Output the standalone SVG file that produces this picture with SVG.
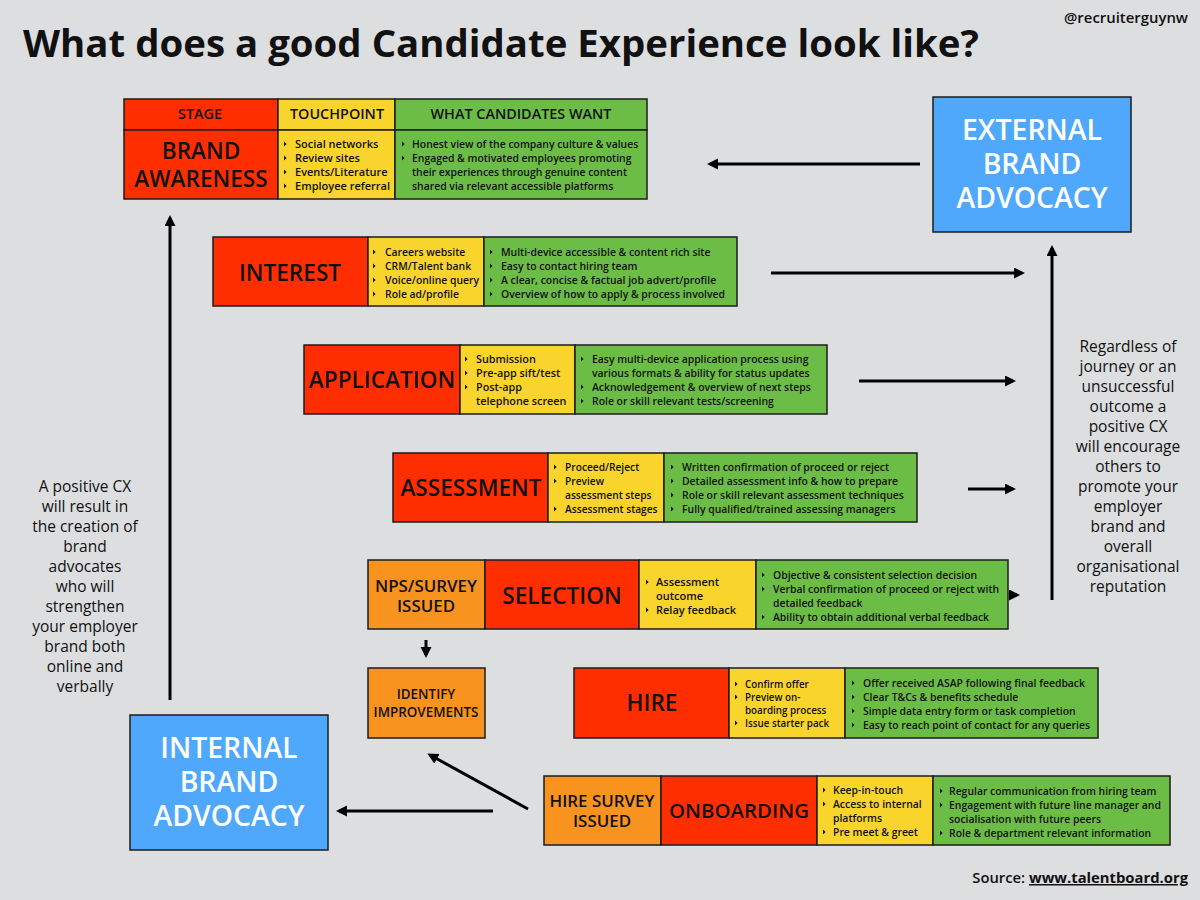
<svg xmlns="http://www.w3.org/2000/svg" width="1200" height="900" viewBox="0 0 1200 900">
<style>
text{font-family:"Open Sans","Liberation Sans",sans-serif;fill:#111;font-weight:600}
.r{fill:#fe2e00}.y{fill:#f8d42c}.g{fill:#6cbd45}.o{fill:#f7931e}.b{fill:#4fa8fb}
rect{stroke:#1c1c1c;stroke-width:1.5}
.t{font-size:10.4px}
.t11{font-size:11px}
.t108{font-size:10.8px}
.t102{font-size:10.2px}
.t98{font-size:9.8px}
.s{font-size:22.6px;text-anchor:middle}
.m{font-size:16.9px;text-anchor:middle}
.h{font-size:14.4px;text-anchor:middle}
.i{font-size:13.4px;text-anchor:middle}
.a{font-size:28.4px;text-anchor:middle;fill:#fff}
.n{font-size:15.5px;text-anchor:middle;font-weight:400}
.c{stroke:#000;stroke-width:3;fill:none;marker-end:url(#ah)}
</style>
<defs>
<marker id="ah" markerUnits="userSpaceOnUse" markerWidth="12" markerHeight="12" refX="8" refY="5.5" orient="auto"><path d="M0 0L11 5.5L0 11Z" fill="#000"/></marker>
<path id="bu" d="M0 -2.6L2.6 0L0 2.6Z" fill="#111"/>
</defs>
<rect x="0" y="0" width="1200" height="900" style="fill:#dcdee0;stroke:none"/>
<text id="title" x="23" y="57" style="font-size:38.4px;font-weight:700">What does a good Candidate Experience look like?</text>
<text id="handle" x="1188" y="23" style="font-size:14.9px;text-anchor:end">@recruiterguynw</text>
<text id="source" x="1188" y="883" style="font-size:14.8px;text-anchor:end">Source: <tspan style="text-decoration:underline;font-weight:700">www.talentboard.org</tspan></text>

<g id="connectors">
<path class="c" d="M920 164H710"/>
<path class="c" d="M771 273H1022"/>
<path class="c" d="M859 381H1013"/>
<path class="c" d="M968 489H1013"/>
<path class="c" d="M1009 595H1017"/>
<path class="c" d="M1052 600V248"/>
<path class="c" d="M170 700V218"/>
<path class="c" d="M426 640V655"/>
<path class="c" d="M493 811H339"/>
<path class="c" d="M528 809L430 755"/>
</g>

<g id="brand-awareness">
<rect class="r" x="124" y="99" width="154" height="31"/><rect class="y" x="278" y="99" width="117" height="31"/><rect class="g" x="395" y="99" width="252" height="31"/>
<rect class="r" x="124" y="130" width="154" height="69"/><rect class="y" x="278" y="130" width="117" height="69"/><rect class="g" x="395" y="130" width="252" height="69"/>
<text class="h" x="200" y="119">STAGE</text><text class="h" x="337" y="119">TOUCHPOINT</text><text class="h" x="521" y="119">WHAT CANDIDATES WANT</text>
<text class="s" x="201" y="159">BRAND</text><text class="s" x="201" y="187">AWARENESS</text>
<use href="#bu" x="284" y="144"/><use href="#bu" x="284" y="158"/><use href="#bu" x="284" y="172"/><use href="#bu" x="284" y="186"/>
<text class="t11" x="295" y="148">Social networks</text><text class="t11" x="295" y="162">Review sites</text><text class="t11" x="295" y="176">Events/Literature</text><text class="t11" x="295" y="190">Employee referral</text>
<use href="#bu" x="402" y="144"/><use href="#bu" x="402" y="158"/>
<text class="t" x="412" y="148">Honest view of the company culture &amp; values</text><text class="t" x="412" y="162">Engaged &amp; motivated employees promoting</text><text class="t" x="412" y="176">their experiences through genuine content</text><text class="t" x="412" y="190">shared via relevant accessible platforms</text>
</g>

<g id="interest">
<rect class="r" x="213" y="237" width="155" height="69"/><rect class="y" x="368" y="237" width="116" height="69"/><rect class="g" x="484" y="237" width="253" height="69"/>
<text class="s" x="290" y="281">INTEREST</text>
<use href="#bu" x="373" y="252"/><use href="#bu" x="373" y="266"/><use href="#bu" x="373" y="280"/><use href="#bu" x="373" y="294"/>
<text class="t" x="385" y="256">Careers website</text><text class="t" x="385" y="270">CRM/Talent bank</text><text class="t" x="385" y="284">Voice/online query</text><text class="t" x="385" y="298">Role ad/profile</text>
<use href="#bu" x="490" y="252"/><use href="#bu" x="490" y="266"/><use href="#bu" x="490" y="280"/><use href="#bu" x="490" y="294"/>
<text class="t" x="501" y="256">Multi-device accessible &amp; content rich site</text><text class="t" x="501" y="270">Easy to contact hiring team</text><text class="t" x="501" y="284">A clear, concise &amp; factual job advert/profile</text><text class="t" x="501" y="298">Overview of how to apply &amp; process involved</text>
</g>

<g id="application">
<rect class="r" x="304" y="345" width="156" height="69"/><rect class="y" x="460" y="345" width="115" height="69"/><rect class="g" x="575" y="345" width="252" height="69"/>
<text class="s" x="382" y="388">APPLICATION</text>
<use href="#bu" x="465" y="359"/><use href="#bu" x="465" y="373"/><use href="#bu" x="465" y="387"/>
<text class="t108" x="476" y="363">Submission</text><text class="t108" x="476" y="377">Pre-app sift/test</text><text class="t108" x="476" y="391">Post-app</text><text class="t108" x="476" y="405">telephone screen</text>
<use href="#bu" x="581" y="359"/><use href="#bu" x="581" y="387"/><use href="#bu" x="581" y="401"/>
<text class="t" x="592" y="363">Easy multi-device application process using</text><text class="t" x="592" y="377">various formats &amp; ability for status updates</text><text class="t" x="592" y="391">Acknowledgement &amp; overview of next steps</text><text class="t" x="592" y="405">Role or skill relevant tests/screening</text>
</g>

<g id="assessment">
<rect class="r" x="393" y="453" width="155" height="69"/><rect class="y" x="548" y="453" width="116" height="69"/><rect class="g" x="664" y="453" width="253" height="69"/>
<text class="s" x="471" y="496">ASSESSMENT</text>
<use href="#bu" x="554" y="467"/><use href="#bu" x="554" y="481"/><use href="#bu" x="554" y="509"/>
<text class="t102" x="565" y="471">Proceed/Reject</text><text class="t102" x="565" y="485">Preview</text><text class="t102" x="565" y="499">assessment steps</text><text class="t102" x="565" y="513">Assessment stages</text>
<use href="#bu" x="671" y="467"/><use href="#bu" x="671" y="481"/><use href="#bu" x="671" y="495"/><use href="#bu" x="671" y="509"/>
<text class="t" x="682" y="471">Written confirmation of proceed or reject</text><text class="t" x="682" y="485">Detailed assessment info &amp; how to prepare</text><text class="t" x="682" y="499">Role or skill relevant assessment techniques</text><text class="t" x="682" y="513">Fully qualified/trained assessing managers</text>
</g>

<g id="selection">
<rect class="o" x="368" y="560" width="117" height="69"/><rect class="r" x="485" y="560" width="154" height="69"/><rect class="y" x="639" y="560" width="117" height="69"/><rect class="g" x="756" y="560" width="252" height="69"/>
<text class="m" x="426" y="592">NPS/SURVEY</text><text class="m" x="426" y="612">ISSUED</text>
<text class="s" x="562" y="604">SELECTION</text>
<use href="#bu" x="646" y="582"/><use href="#bu" x="646" y="610"/>
<text class="t11" x="656" y="586">Assessment</text><text class="t11" x="656" y="600">outcome</text><text class="t11" x="656" y="614">Relay feedback</text>
<use href="#bu" x="762" y="575"/><use href="#bu" x="762" y="589"/><use href="#bu" x="762" y="617"/>
<text class="t" x="773" y="579">Objective &amp; consistent selection decision</text><text class="t" x="773" y="593">Verbal confirmation of proceed or reject with</text><text class="t" x="773" y="607">detailed feedback</text><text class="t" x="773" y="621">Ability to obtain additional verbal feedback</text>
</g>

<g id="identify-improvements">
<rect class="o" x="368" y="668" width="117" height="70"/>
<text class="i" x="426" y="699">IDENTIFY</text><text class="i" x="426" y="717">IMPROVEMENTS</text>
</g>

<g id="hire">
<rect class="r" x="574" y="668" width="155" height="70"/><rect class="y" x="729" y="668" width="116" height="70"/><rect class="g" x="845" y="668" width="253" height="70"/>
<text class="s" x="652" y="711">HIRE</text>
<use href="#bu" x="735" y="684"/><use href="#bu" x="735" y="697"/><use href="#bu" x="735" y="723"/>
<text class="t98" x="745" y="688">Confirm offer</text><text class="t98" x="745" y="701">Preview on-</text><text class="t98" x="745" y="714">boarding process</text><text class="t98" x="745" y="727">Issue starter pack</text>
<use href="#bu" x="852" y="683"/><use href="#bu" x="852" y="697"/><use href="#bu" x="852" y="711"/><use href="#bu" x="852" y="725"/>
<text class="t" x="863" y="687">Offer received ASAP following final feedback</text><text class="t" x="863" y="701">Clear T&amp;Cs &amp; benefits schedule</text><text class="t" x="863" y="715">Simple data entry form or task completion</text><text class="t" x="863" y="729">Easy to reach point of contact for any queries</text>
</g>

<g id="onboarding">
<rect class="o" x="544" y="776" width="117" height="69"/><rect class="r" x="661" y="776" width="156" height="69"/><rect class="y" x="817" y="776" width="116" height="69"/><rect class="g" x="933" y="776" width="237" height="69"/>
<text class="m" x="602" y="807">HIRE SURVEY</text><text class="m" x="602" y="827">ISSUED</text>
<text class="s" x="739" y="818" style="font-size:20.4px">ONBOARDING</text>
<use href="#bu" x="823" y="790"/><use href="#bu" x="823" y="804"/><use href="#bu" x="823" y="832"/>
<text class="t" x="833" y="794">Keep-in-touch</text><text class="t" x="833" y="808">Access to internal</text><text class="t" x="833" y="822">platforms</text><text class="t" x="833" y="836">Pre meet &amp; greet</text>
<use href="#bu" x="940" y="791"/><use href="#bu" x="940" y="805"/><use href="#bu" x="940" y="833"/>
<text class="t" x="949" y="795">Regular communication from hiring team</text><text class="t" x="949" y="809">Engagement with future line manager and</text><text class="t" x="949" y="823">socialisation with future peers</text><text class="t" x="949" y="837">Role &amp; department relevant information</text>
</g>

<g id="external-brand-advocacy">
<rect class="b" x="933" y="97" width="198" height="135"/>
<text class="a" x="1032" y="140">EXTERNAL</text><text class="a" x="1032" y="174">BRAND</text><text class="a" x="1032" y="208">ADVOCACY</text>
</g>
<g id="internal-brand-advocacy">
<rect class="b" x="130" y="715" width="198" height="135"/>
<text class="a" x="229" y="758">INTERNAL</text><text class="a" x="229" y="792">BRAND</text><text class="a" x="229" y="826">ADVOCACY</text>
</g>

<g id="note-left">
<text class="n" x="85" y="492">A positive CX</text><text class="n" x="85" y="512">will result in</text><text class="n" x="85" y="532">the creation of</text><text class="n" x="85" y="552">brand</text><text class="n" x="85" y="572">advocates</text><text class="n" x="85" y="592">who will</text><text class="n" x="85" y="612">strengthen</text><text class="n" x="85" y="632">your employer</text><text class="n" x="85" y="652">brand both</text><text class="n" x="85" y="672">online and</text><text class="n" x="85" y="692">verbally</text>
</g>
<g id="note-right">
<text class="n" x="1128" y="352">Regardless of</text><text class="n" x="1128" y="372">journey or an</text><text class="n" x="1128" y="392">unsuccessful</text><text class="n" x="1128" y="412">outcome a</text><text class="n" x="1128" y="432">positive CX</text><text class="n" x="1128" y="452">will encourage</text><text class="n" x="1128" y="472">others to</text><text class="n" x="1128" y="492">promote your</text><text class="n" x="1128" y="512">employer</text><text class="n" x="1128" y="532">brand and</text><text class="n" x="1128" y="552">overall</text><text class="n" x="1128" y="572">organisational</text><text class="n" x="1128" y="592">reputation</text>
</g>
</svg>
